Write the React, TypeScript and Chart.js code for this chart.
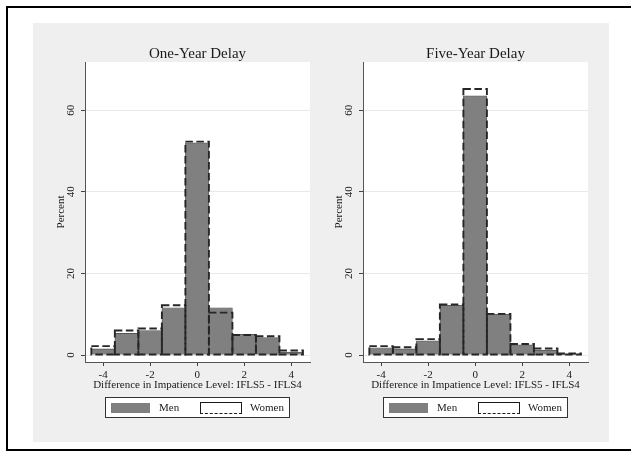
import React, { useEffect, useRef } from 'react';
import { Chart, registerables } from 'chart.js';

Chart.register(...registerables);

// ---- data ----
const bins = [-4, -3, -2, -1, 0, 1, 2, 3, 4];
const oneYearMen = [1.5, 5.3, 6.0, 11.6, 52.0, 11.6, 5.1, 4.3, 0.7];
const oneYearWomen = [2.2, 6.0, 6.5, 12.2, 52.3, 10.4, 4.9, 4.6, 1.1];
const fiveYearMen = [1.8, 1.5, 3.5, 12.2, 63.5, 10.0, 2.5, 1.2, 0.2];
const fiveYearWomen = [2.2, 1.9, 3.9, 12.4, 65.2, 10.1, 2.7, 1.6, 0.4];
const xTicks = [-4, -2, 0, 2, 4];
const yTicks = [0, 20, 40, 60];
const panelTitles = ['One-Year Delay', 'Five-Year Delay'];
const xTitle = 'Difference in Impatience Level: IFLS5 - IFLS4';
const yTitle = 'Percent';
const seriesNames = ['Men', 'Women'];

const FONT = "'Liberation Serif', 'Times New Roman', serif";
const TEXT = '#1a1a1a';
const BAR_GRAY = '#808080';

const whiteArea = {
  id: 'whiteArea',
  beforeDraw(chart: any) {
    const { ctx, chartArea } = chart;
    ctx.save();
    ctx.fillStyle = '#ffffff';
    ctx.fillRect(chartArea.left, chartArea.top, chartArea.right - chartArea.left, chartArea.bottom - chartArea.top);
    ctx.restore();
  },
};

const dashedOutline = {
  id: 'dashedOutline',
  afterDatasetsDraw(chart: any) {
    const meta = chart.getDatasetMeta(1);
    const ctx = chart.ctx;
    ctx.save();
    ctx.setLineDash([7.5, 3.5]);
    ctx.lineWidth = 1.9;
    ctx.strokeStyle = '#262626';
    meta.data.forEach((el: any) => {
      const { x, y, base, width } = el.getProps(['x', 'y', 'base', 'width'], true);
      ctx.strokeRect(x - width / 2, y, width, base - y);
    });
    ctx.restore();
  },
};

function Panel({ title, men, women, left }: { title: string; men: number[]; women: number[]; left: number }) {
  const ref = useRef<HTMLCanvasElement>(null);
  useEffect(() => {
    const chart = new Chart(ref.current as HTMLCanvasElement, {
      type: 'bar',
      data: {
        datasets: [
          {
            label: seriesNames[0],
            data: bins.map((b, i) => ({ x: b, y: men[i] })),
            backgroundColor: BAR_GRAY,
            borderColor: '#555555',
            borderWidth: 0.8,
            grouped: false,
            barPercentage: 1,
            categoryPercentage: 1,
          } as any,
          {
            label: seriesNames[1],
            data: bins.map((b, i) => ({ x: b, y: women[i] })),
            backgroundColor: 'rgba(0,0,0,0)',
            borderWidth: 0,
            grouped: false,
            barPercentage: 1,
            categoryPercentage: 1,
          } as any,
        ],
      },
      options: {
        responsive: false,
        animation: false,
        events: [],
        layout: { padding: { left: 0, right: 1, top: 0, bottom: 50 } },
        plugins: {
          legend: { display: false },
          tooltip: { enabled: false },
          title: {
            display: true,
            text: title,
            fullSize: false,
            color: TEXT,
            font: { family: FONT, size: 15, weight: 'normal', lineHeight: 1 },
            padding: { top: 23.1, bottom: 0.9 },
          },
        },
        scales: {
          x: {
            type: 'linear',
            offset: false,
            min: -4.77,
            max: 4.8,
            afterBuildTicks: (s: any) => {
              s.ticks = xTicks.map((v) => ({ value: v }));
            },
            afterFit: (s: any) => {
              s.height = 30;
            },
            grid: { offset: false, drawOnChartArea: false, drawTicks: true, tickLength: 4, tickColor: '#444444', tickWidth: 1 },
            border: { display: true, color: '#555555', width: 1 },
            ticks: {
              padding: 3,
              color: TEXT,
              font: { family: FONT, size: 11 },
              maxRotation: 0,
              minRotation: 0,
              autoSkip: false,
            },
            title: {
              display: true,
              text: xTitle,
              color: TEXT,
              font: { family: FONT, size: 11 },
              padding: { top: 0, bottom: 0.2 },
            },
          },
          y: {
            type: 'linear',
            min: -1.7,
            max: 71.8,
            afterBuildTicks: (s: any) => {
              s.ticks = yTicks.map((v) => ({ value: v }));
            },
            afterFit: (s: any) => {
              s.width = 52;
            },
            grid: { color: '#e9e9e9', lineWidth: 1, drawTicks: true, tickLength: 4, tickColor: '#444444', tickWidth: 1 },
            border: { display: true, color: '#555555', width: 1 },
            ticks: {
              padding: 4.5,
              color: TEXT,
              font: { family: FONT, size: 11 },
              minRotation: 90,
              maxRotation: 90,
              crossAlign: 'center',
              autoSkip: false,
            },
            title: {
              display: true,
              text: yTitle,
              color: TEXT,
              font: { family: FONT, size: 11 },
              padding: { top: 21.7, bottom: 0 },
            },
          },
        },
      } as any,
      plugins: [whiteArea, dashedOutline],
    });
    return () => chart.destroy();
  }, [title, men, women]);
  return (
    <canvas
      ref={ref}
      width={278}
      height={419}
      style={{ position: 'absolute', left, top: 23, width: 278, height: 419 }}
    />
  );
}

function Legend({ dx }: { dx: number }) {
  const txt: React.CSSProperties = {
    position: 'absolute',
    top: 401,
    height: 13,
    lineHeight: '13px',
    fontFamily: FONT,
    fontSize: 11,
    color: TEXT,
    whiteSpace: 'nowrap',
  };
  return (
    <>
      <div
        style={{
          position: 'absolute',
          left: 105 + dx,
          top: 397,
          width: 185,
          height: 21,
          boxSizing: 'border-box',
          border: '1px solid #333333',
          background: '#ffffff',
        }}
      />
      <div style={{ position: 'absolute', left: 111 + dx, top: 403, width: 39, height: 10, background: BAR_GRAY }} />
      <div style={{ ...txt, left: 159 + dx }}>{seriesNames[0]}</div>
      <div
        style={{
          position: 'absolute',
          left: 200 + dx,
          top: 402,
          width: 42,
          height: 12,
          boxSizing: 'border-box',
          borderWidth: 1.5,
          borderColor: '#1a1a1a',
          borderStyle: 'solid solid dashed solid',
          background: '#ffffff',
        }}
      />
      <div style={{ ...txt, left: 250 + dx }}>{seriesNames[1]}</div>
    </>
  );
}

export default function App() {
  return (
    <div style={{ position: 'fixed', left: 0, top: 0, width: 631, height: 452, overflow: 'hidden', background: '#ffffff' }}>
      <div
        style={{
          position: 'absolute',
          left: 6,
          top: 6,
          width: 640,
          height: 441,
          border: '2px solid #000000',
        }}
      />
      <div style={{ position: 'absolute', left: 33, top: 23, width: 576, height: 419, background: '#efefef' }} />
      <Panel title={panelTitles[0]} men={oneYearMen} women={oneYearWomen} left={33} />
      <Panel title={panelTitles[1]} men={fiveYearMen} women={fiveYearWomen} left={311} />
      <Legend dx={0} />
      <Legend dx={278} />
    </div>
  );
}
